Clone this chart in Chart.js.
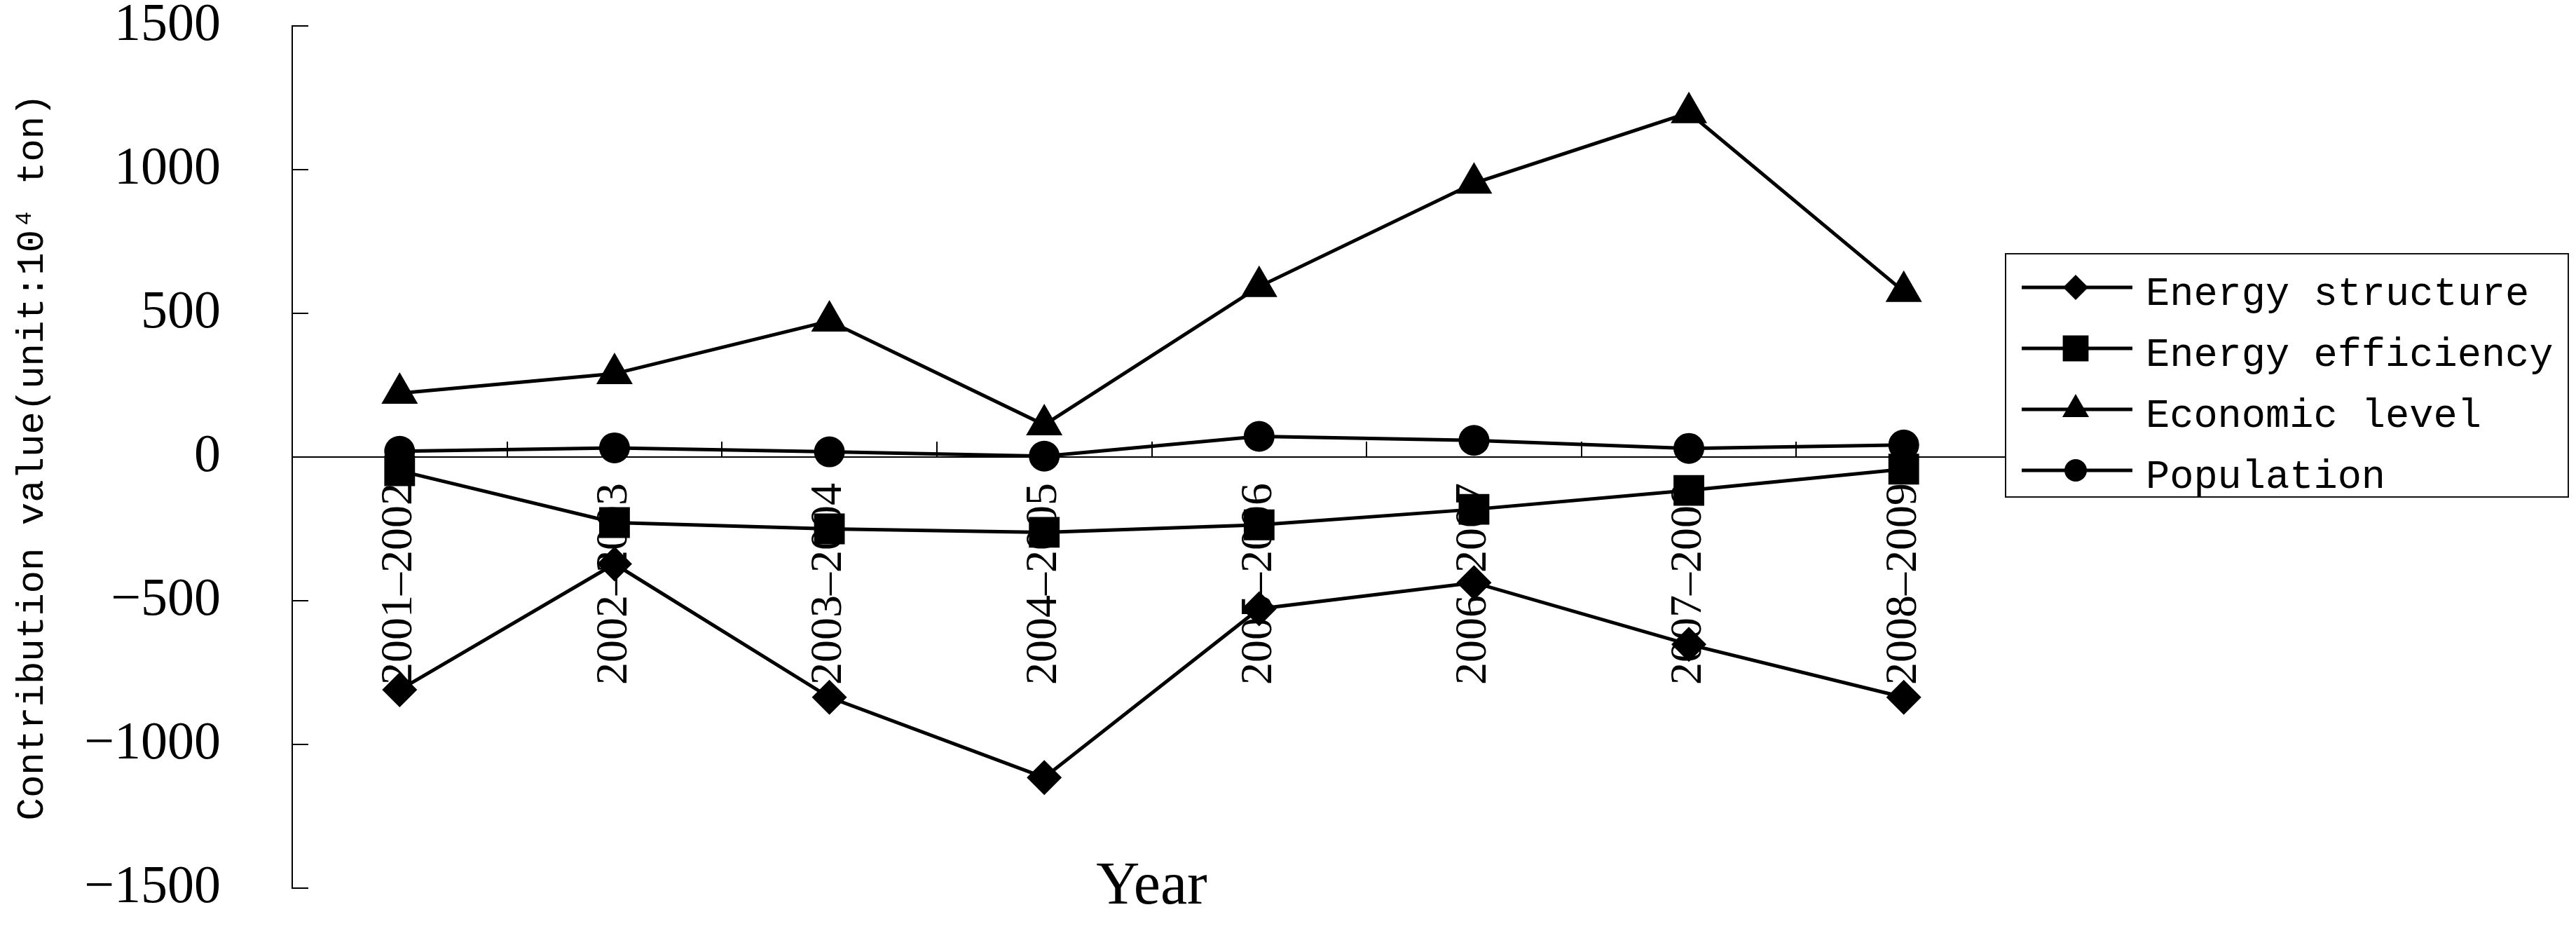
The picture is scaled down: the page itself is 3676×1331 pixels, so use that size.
<!DOCTYPE html>
<html><head><meta charset="utf-8">
<script src="https://cdn.jsdelivr.net/npm/chart.js@4.4.1/dist/chart.umd.min.js"></script>
<style>html,body{margin:0;padding:0;background:#fff;}canvas{display:block;}</style>
</head><body>
<canvas id="c" width="3676" height="1331"></canvas>
<script>
const categories = ['2001-2002','2002-2003','2003-2004','2004-2005','2005-2006','2006-2007','2007-2008','2008-2009'];
const energyStructure = [-810, -372, -836, -1115, -528, -437, -652, -836];
const energyEfficiency = [-48, -228, -250, -262, -236, -182, -116, -42];
const economicLevel = [222, 290, 473, 112, 593, 953, 1198, 576];
const population = [20, 32, 18, 3, 72, 58, 30, 42];
const seriesNames = ['Energy structure', 'Energy efficiency', 'Economic level', 'Population'];
const yTickValues = [-1500, -1000, -500, 0, 500, 1000, 1500];
const xTitle = 'Year';
const yTitle = 'Contribution value(unit:10\u2074 ton)';

const serif = '"Liberation Serif", "Times New Roman", serif';
const mono = '"Liberation Mono", "Courier New", monospace';

function mkDs(label, data, style, r) {
  return { label, data, borderColor: '#000', backgroundColor: '#000', borderWidth: 5,
    pointStyle: style, pointRadius: r, pointHoverRadius: r, pointBackgroundColor: '#000',
    pointBorderWidth: 0, tension: 0, fill: false };
}

function drawMarker(ctx, style, r, x, y) {
  ctx.beginPath();
  if (style === 'rectRot') {
    ctx.moveTo(x, y - r); ctx.lineTo(x + r, y); ctx.lineTo(x, y + r); ctx.lineTo(x - r, y);
  } else if (style === 'rect') {
    const s = Math.SQRT1_2 * r; ctx.rect(x - s, y - s, 2 * s, 2 * s);
  } else if (style === 'triangle') {
    ctx.moveTo(x, y - r); ctx.lineTo(x + r * Math.sin(Math.PI / 3), y + r / 2); ctx.lineTo(x - r * Math.sin(Math.PI / 3), y + r / 2);
  } else {
    ctx.arc(x, y, r, 0, Math.PI * 2);
  }
  ctx.closePath(); ctx.fill();
}

const legendRadii = [18, 26, 22, 16];

const decor = {
  id: 'decor',
  afterDraw(chart) {
    const ctx = chart.ctx;
    const xs = chart.scales.x, ys = chart.scales.y;
    const area = chart.chartArea;
    ctx.save();
    ctx.strokeStyle = '#000'; ctx.lineWidth = 2;
    ys.ticks.forEach(t => {
      const py = Math.round(ys.getPixelForValue(t.value));
      ctx.beginPath(); ctx.moveTo(area.left, py); ctx.lineTo(area.left + 23, py); ctx.stroke();
    });
    const y0 = Math.round(ys.getPixelForValue(0));
    for (let i = 0; i < categories.length - 1; i++) {
      const px = Math.round((xs.getPixelForValue(i) + xs.getPixelForValue(i + 1)) / 2);
      ctx.beginPath(); ctx.moveTo(px, y0); ctx.lineTo(px, y0 - 22); ctx.stroke();
    }
    ctx.fillStyle = '#000';
    ctx.font = '86px ' + serif;
    ctx.textAlign = 'center'; ctx.textBaseline = 'alphabetic';
    ctx.fillText(xTitle, (area.left + area.right) / 2, 1289);
    const lx = 2862, ly = 362, lw = 803, lh = 347;
    ctx.fillStyle = '#fff'; ctx.fillRect(lx, ly, lw, lh);
    ctx.strokeStyle = '#111'; ctx.lineWidth = 2; ctx.strokeRect(lx, ly, lw, lh);
    chart.data.datasets.forEach((ds, i) => {
      const cy = 410 + i * 87;
      ctx.strokeStyle = '#000'; ctx.lineWidth = 5;
      ctx.beginPath(); ctx.moveTo(2885, cy); ctx.lineTo(3043, cy); ctx.stroke();
      ctx.fillStyle = '#000';
      drawMarker(ctx, ds.pointStyle, legendRadii[i], 2962, cy);
      ctx.font = '57px ' + mono;
      ctx.textAlign = 'left'; ctx.textBaseline = 'alphabetic';
      ctx.fillText(ds.label, 3062, cy + 25);
    });
    ctx.restore();
  }
};

new Chart(document.getElementById('c'), {
  type: 'line',
  data: {
    labels: categories,
    datasets: [
      mkDs(seriesNames[0], energyStructure, 'rectRot', 25),
      mkDs(seriesNames[1], energyEfficiency, 'rect', 31),
      mkDs(seriesNames[2], economicLevel, 'triangle', 30),
      mkDs(seriesNames[3], population, 'circle', 22)
    ]
  },
  options: {
    responsive: false, devicePixelRatio: 1, animation: false,
    layout: { padding: { left: 0, top: 37, right: 806, bottom: 64 } },
    plugins: { legend: { display: false }, tooltip: { enabled: false }, title: { display: false } },
    scales: {
      x: {
        type: 'category', offset: true, position: { y: 0 },
        grid: { display: true, drawOnChartArea: false, drawTicks: false, offset: true },
        border: { display: true, color: '#000', width: 2 },
        ticks: {
          color: '#000', minRotation: 90, maxRotation: 90, autoSkip: false, padding: 37,
          font: { family: serif, size: 64 },
          callback: function (v) { return this.getLabelForValue(v).replace('-', '\u2013'); }
        }
      },
      y: {
        min: -1500, max: 1500,
        afterBuildTicks: s => { s.ticks = yTickValues.map(v => ({ value: v })); },
        afterFit: s => { s.width = 417; s.paddingTop = 0; s.paddingBottom = 0; },
        grid: { display: true, drawOnChartArea: false, drawTicks: false },
        border: { display: true, color: '#000', width: 2 },
        ticks: {
          color: '#000', padding: 102,
          font: { family: serif, size: 76, lineHeight: 1 },
          callback: v => v < 0 ? '\u2212' + Math.abs(v) : String(v)
        },
        title: { display: true, text: yTitle, color: '#000',
          font: { family: mono, size: 54 }, padding: { top: 14, bottom: 0 } }
      }
    }
  },
  plugins: [decor]
});
</script>
</body></html>
